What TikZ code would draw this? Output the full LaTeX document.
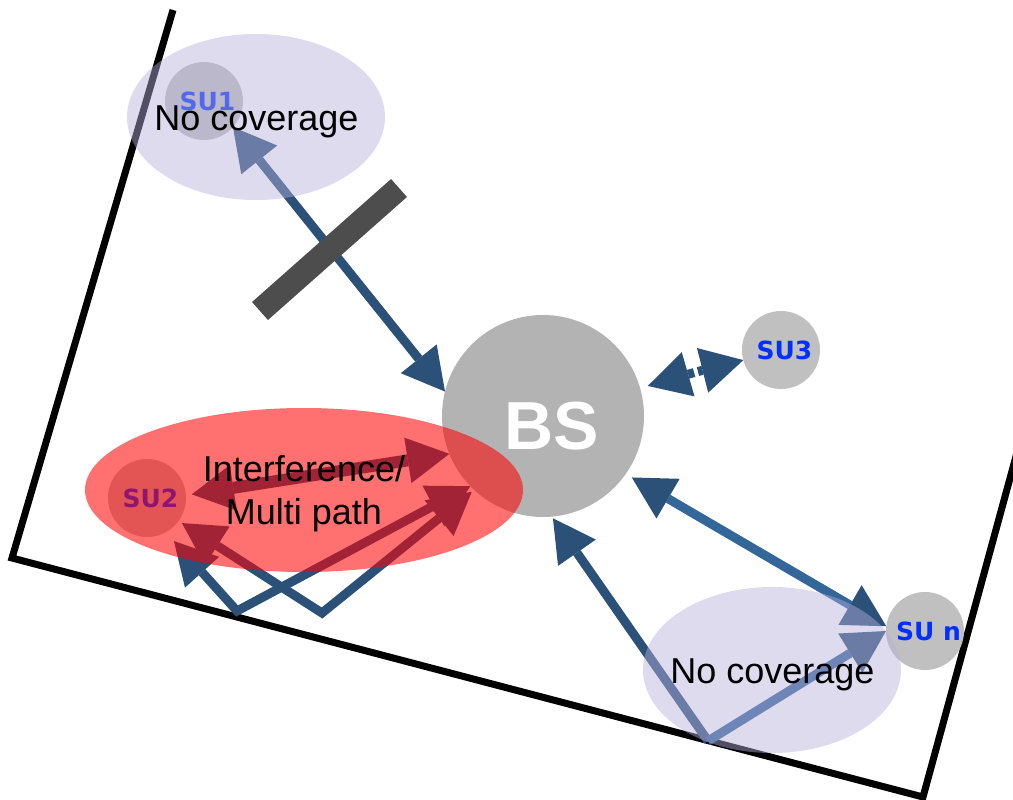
\documentclass[tikz,border=0pt]{standalone}
\usepackage{fontspec}
\setmainfont{Liberation Sans}
\newfontfamily\sufont{DejaVu Sans}
\usetikzlibrary{arrows.meta,shapes.geometric}

\definecolor{linkdark}{RGB}{43,81,121}
\definecolor{linklight}{RGB}{51,102,153}
\definecolor{sugray}{RGB}{192,192,192}
\definecolor{bsgray}{RGB}{179,179,179}
\definecolor{zonelav}{RGB}{184,175,220}
\definecolor{zonered}{RGB}{255,0,0}
\definecolor{sublue}{RGB}{0,48,255}
\definecolor{blocker}{RGB}{77,77,77}

\tikzset{
  wall/.style={line width=7pt, draw=black, line join=miter},
  su/.style={circle, fill=sugray, minimum size=78pt, inner sep=0pt, outer sep=0pt,
    text=sublue, font=\sufont\bfseries\fontsize{25}{25}\selectfont},
  bs/.style={circle, fill=bsgray, minimum size=202pt, inner sep=0pt, outer sep=0pt},
  bslabel/.style={inner sep=0pt, text=white, font=\bfseries\fontsize{68}{68}\selectfont},
  link/.style={line width=9pt, draw=linkdark,
    >={Triangle[length=42pt,width=46pt,line width=0pt,color=linkdark]}},
  blockbar/.style={line width=24pt, draw=blocker},
  zone/.style={ellipse, inner sep=0pt, outer sep=0pt, fill opacity=0.45},
  zonetext/.style={inner sep=0pt, text=black, align=center,
    font=\fontsize{36}{43}\selectfont},
}

\begin{document}
\begin{tikzpicture}[x=1pt,y=-1pt]
\useasboundingbox (0,0) rectangle (1013,800);
\clip (0,0) rectangle (1013,800);

% room outline
\draw[wall] (173,10) -- (12,558) -- (923,797) -- (1030,405);

% base station and subscriber units
\node[bs] (bs) at (543,416) {};
\node[su] (su1) at (204,101) {\hspace*{7pt}SU1};
\node[su] (su2) at (147,498) {\hspace*{7pt}SU2};
\node[su] (su3) at (781,350) {\hspace*{7pt}SU3};
\node[su] (sun) at (925,631) {\hspace*{7pt}SU n};

% links
\draw[link,<->] (su1.-42) -- (bs.166);

\coordinate (m3) at (696,372);
\draw[link,->,shorten <=2pt,shorten >=8pt] (m3) -- (bs.16);
\draw[link,->,shorten <=2pt] (m3) -- (su3.195);

\draw[link,draw=linklight,<->,shorten <=7pt] (bs.-35) -- (sun.173);

\coordinate (r2) at (708,741);
\draw[link,->,shorten >=2pt] (r2) -- (bs.-85);
\draw[link,draw=linklight,->] (r2) -- (sun.180);

\draw[link,line width=12pt,<->,shorten <=6pt] (su2.4) -- (bs.202);
\coordinate (r1a) at (237,611);
\coordinate (r1b) at (322,613);
\draw[link,<->,shorten <=12pt] (su2.-61) -- (r1a) -- (bs.224);
\draw[link,<->,shorten <=4pt,shorten >=3pt] (su2.-36) -- (r1b) -- (bs.227);

% obstacle blocking SU1
\draw[blockbar] (399,188) -- (260,311);

% coverage and interference zones
\node[zone, fill=zonelav, minimum width=258pt, minimum height=166pt] (nc1) at (256,117) {};
\node[zone, fill=zonelav, minimum width=258pt, minimum height=166pt] (nc2) at (772,670) {};
\node[zone, fill=zonered, fill opacity=0.56, minimum width=438pt, minimum height=164pt] (intf) at (304,490) {};

\node[bslabel] (bstext) at (552,426) {BS};
\node[zonetext, anchor=base] (nc1t) at (256.5,130) {No coverage};
\node[zonetext, anchor=base] (nc2t) at (772.5,683) {No coverage};
\node[zonetext] (intft) at (304,494) {Interference/\\Multi path};
\end{tikzpicture}
\end{document}
